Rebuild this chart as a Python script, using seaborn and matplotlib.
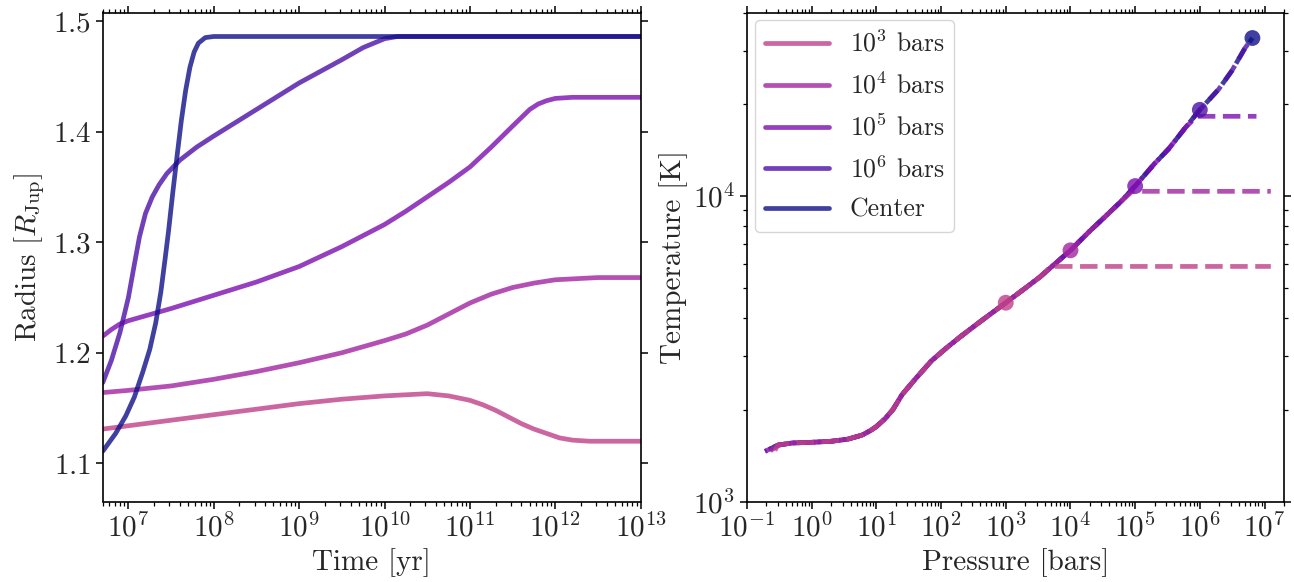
import numpy as np
import matplotlib
matplotlib.use("Agg")
import matplotlib.pyplot as plt
import seaborn as sns
from matplotlib.ticker import FuncFormatter, LogLocator, MultipleLocator, NullFormatter

# ---------------- data ----------------
labels = [r"$10^3$ bars", r"$10^4$ bars", r"$10^5$ bars", r"$10^6$ bars", "Center"]
colors = ["#bf4088", "#a124a1", "#7c10b0", "#4c10a6", "#101088"]

# Left panel: radius evolution (log10 time [yr], radius [R_Jup])
logt_1e3 = [6.7, 7.0, 7.5, 8.0, 8.5, 9.0, 9.5, 10.0, 10.25, 10.5, 10.75, 11.0, 11.15, 11.3, 11.45, 11.6,
            11.75, 11.9, 12.05, 12.2, 12.4, 12.7, 13.0]
rad_1e3 = [1.131, 1.134, 1.139, 1.144, 1.149, 1.154, 1.158, 1.161, 1.162, 1.163, 1.161, 1.157, 1.153, 1.148,
           1.142, 1.136, 1.131, 1.127, 1.123, 1.121, 1.120, 1.120, 1.120]

logt_1e4 = [6.7, 7.0, 7.5, 8.0, 8.5, 9.0, 9.5, 10.0, 10.25, 10.5, 10.75, 11.0, 11.25, 11.5, 11.75, 12.0,
            12.25, 12.5, 13.0]
rad_1e4 = [1.164, 1.166, 1.170, 1.176, 1.183, 1.191, 1.200, 1.211, 1.217, 1.225, 1.235, 1.245, 1.253, 1.259,
           1.263, 1.266, 1.267, 1.268, 1.268]

logt_1e5 = [6.7, 6.8, 6.9, 7.0, 7.5, 8.0, 8.5, 9.0, 9.5, 9.75, 10.0, 10.25, 10.5, 10.75, 11.0, 11.25, 11.5,
            11.7, 11.8, 11.9, 12.0, 12.2, 13.0]
rad_1e5 = [1.215, 1.221, 1.226, 1.229, 1.240, 1.252, 1.264, 1.278, 1.296, 1.306, 1.316, 1.328, 1.341, 1.354,
           1.368, 1.386, 1.405, 1.420, 1.425, 1.428, 1.430, 1.431, 1.431]

logt_1e6 = [6.7, 6.8, 6.9, 7.0, 7.07, 7.13, 7.2, 7.28, 7.36, 7.45, 7.6, 7.8, 8.0, 8.5, 9.0, 9.5, 9.75,
            10.0, 10.15, 13.0]
rad_1e6 = [1.173, 1.193, 1.218, 1.250, 1.280, 1.305, 1.326, 1.341, 1.352, 1.362, 1.374, 1.386, 1.396, 1.420,
           1.444, 1.465, 1.476, 1.484, 1.486, 1.486]

logt_ctr = [6.7, 6.85, 6.97, 7.07, 7.17, 7.25, 7.32, 7.38, 7.43, 7.47, 7.52, 7.57, 7.62, 7.67, 7.72, 7.77,
            7.82, 7.9, 8.0, 13.0]
rad_ctr = [1.111, 1.127, 1.143, 1.160, 1.183, 1.203, 1.227, 1.255, 1.285, 1.310, 1.345, 1.378, 1.410, 1.437,
           1.458, 1.472, 1.480, 1.485, 1.486, 1.486]

left_logt = [logt_1e3, logt_1e4, logt_1e5, logt_1e6, logt_ctr]
left_rad = [rad_1e3, rad_1e4, rad_1e5, rad_1e6, rad_ctr]

# Right panel: common T-P profile
P_base = [0.19, 0.3, 0.5, 1, 2, 3.6, 6, 8.2, 10, 13.7, 18, 25, 40, 71, 120, 200, 400, 1000, 2000, 3340,
          5000, 1e4, 2e4, 3.1e4, 6e4, 1e5, 2e5, 3.3e5, 6e5, 1e6, 1.95e6, 3.1e6, 5e6, 6.5e6]
T_base = [1460, 1530, 1555, 1563, 1575, 1600, 1650, 1710, 1760, 1870, 2000, 2240, 2520, 2890, 3180, 3470, 3880,
          4480, 5000, 5430, 5850, 6650, 7700, 8400, 9600, 10800, 12800, 14300, 16800, 19200, 22400, 25700,
          30600, 33000]
start_P = [0.27, 0.23, 0.19, 0.19, 0.19]
start_T = [1470, 1465, 1460, 1460, 1460]
flat_P = [5000, 9e4, 9e5, None, None]
flat_T = [5890, 10380, 18280, None, None]
end_P = [1.25e7, 1.25e7, 7.5e6, None, None]
marker_P = [1e3, 1e4, 1e5, 1e6, 6.5e6]
marker_T = [4480, 6650, 10800, 19200, 33000]

# ---------------- style ----------------
sns.set_style("ticks")
plt.rcParams["font.family"] = ["cmr10", "DejaVu Serif"]
plt.rcParams["mathtext.fontset"] = "cm"
plt.rcParams["axes.formatter.use_mathtext"] = True
plt.rcParams["axes.unicode_minus"] = False

FS = 21
fig = plt.figure(figsize=(12.94, 5.82), dpi=100)
ax1 = fig.add_axes([102.7 / 1294, 1 - 501.5 / 582, 538 / 1294, 489 / 582])
ax2 = fig.add_axes([747 / 1294, 1 - 501.5 / 582, 537 / 1294, 489 / 582])

# ---------------- left panel ----------------
ax1.set_xscale("log")
for lt, r, c, lab in zip(left_logt, left_rad, colors, labels):
    sns.lineplot(x=10 ** np.array(lt), y=r, ax=ax1, color=c, lw=3.4, alpha=0.8,
                 sort=False, estimator=None, label=lab, legend=False)
ax1.set_xlim(5e6, 1e13)
ax1.set_ylim(1.0655, 1.5077)
ax1.yaxis.set_major_locator(MultipleLocator(0.1))
ax1.yaxis.set_major_formatter(FuncFormatter(lambda v, p: f"${v:.1f}$"))
ax1.xaxis.set_major_locator(LogLocator(base=10, numticks=20))
ax1.xaxis.set_minor_locator(LogLocator(base=10, subs=np.arange(2, 10), numticks=100))
ax1.xaxis.set_minor_formatter(NullFormatter())
ax1.xaxis.set_major_formatter(FuncFormatter(lambda v, p: r"$10^{%d}$" % round(np.log10(v))))
ax1.set_xlabel("Time [yr]", fontsize=FS)
ax1.set_ylabel(r"Radius [$R_{\rm Jup}$]", fontsize=FS)

# ---------------- right panel ----------------
ax2.set_xscale("log")
ax2.set_yscale("log")
for i in reversed(range(5)):
    pend = flat_P[i] if flat_P[i] is not None else np.inf
    xs = [start_P[i]] + [p for p in P_base if start_P[i] < p < pend]
    ys = [start_T[i]] + [t for p, t in zip(P_base, T_base) if start_P[i] < p < pend]
    if flat_P[i] is not None:
        xs += [flat_P[i], end_P[i]]
        ys += [flat_T[i], flat_T[i]]
    sns.lineplot(x=xs, y=ys, ax=ax2, color=colors[i], lw=3.4, alpha=0.8, sort=False,
                 estimator=None, linestyle=(1.1 * i, (3.7, 1.6)), legend=False)
for i in reversed(range(5)):
    sns.scatterplot(x=[marker_P[i]], y=[marker_T[i]], ax=ax2, color=colors[i], s=130,
                    alpha=0.8, edgecolor="none", legend=False, zorder=5)
ax2.set_xlim(0.1, 2e7)
ax2.set_ylim(1000, 40000)
ax2.xaxis.set_major_locator(LogLocator(base=10, numticks=20))
ax2.xaxis.set_minor_locator(LogLocator(base=10, subs=np.arange(2, 10), numticks=100))
ax2.xaxis.set_minor_formatter(NullFormatter())
ax2.xaxis.set_major_formatter(FuncFormatter(lambda v, p: r"$10^{%d}$" % round(np.log10(v))))
ax2.yaxis.set_major_locator(LogLocator(base=10, numticks=20))
ax2.yaxis.set_minor_locator(LogLocator(base=10, subs=np.arange(2, 10), numticks=100))
ax2.yaxis.set_minor_formatter(NullFormatter())
ax2.yaxis.set_major_formatter(FuncFormatter(lambda v, p: r"$10^{%d}$" % round(np.log10(v))))
ax2.set_xlabel("Pressure [bars]", fontsize=FS)
ax2.set_ylabel("Temperature [K]", fontsize=FS)

h, l = ax1.get_legend_handles_labels()
ax2.legend(h, l, loc="upper left", fontsize=18.5, handlelength=2.5, frameon=True, labelspacing=0.6,
           fancybox=True, framealpha=0.8, edgecolor="0.8", borderaxespad=0.3)

for ax in (ax1, ax2):
    for s in ax.spines.values():
        s.set_visible(True)
        s.set_color("black")
        s.set_linewidth(1.2)
    ax.tick_params(which="both", top=True, right=True, direction="out", labelsize=FS, color="black")
    ax.tick_params(which="major", length=5, width=1.1)
    ax.tick_params(which="minor", length=2.8, width=0.9)

fig.savefig("out.png", dpi=100)
